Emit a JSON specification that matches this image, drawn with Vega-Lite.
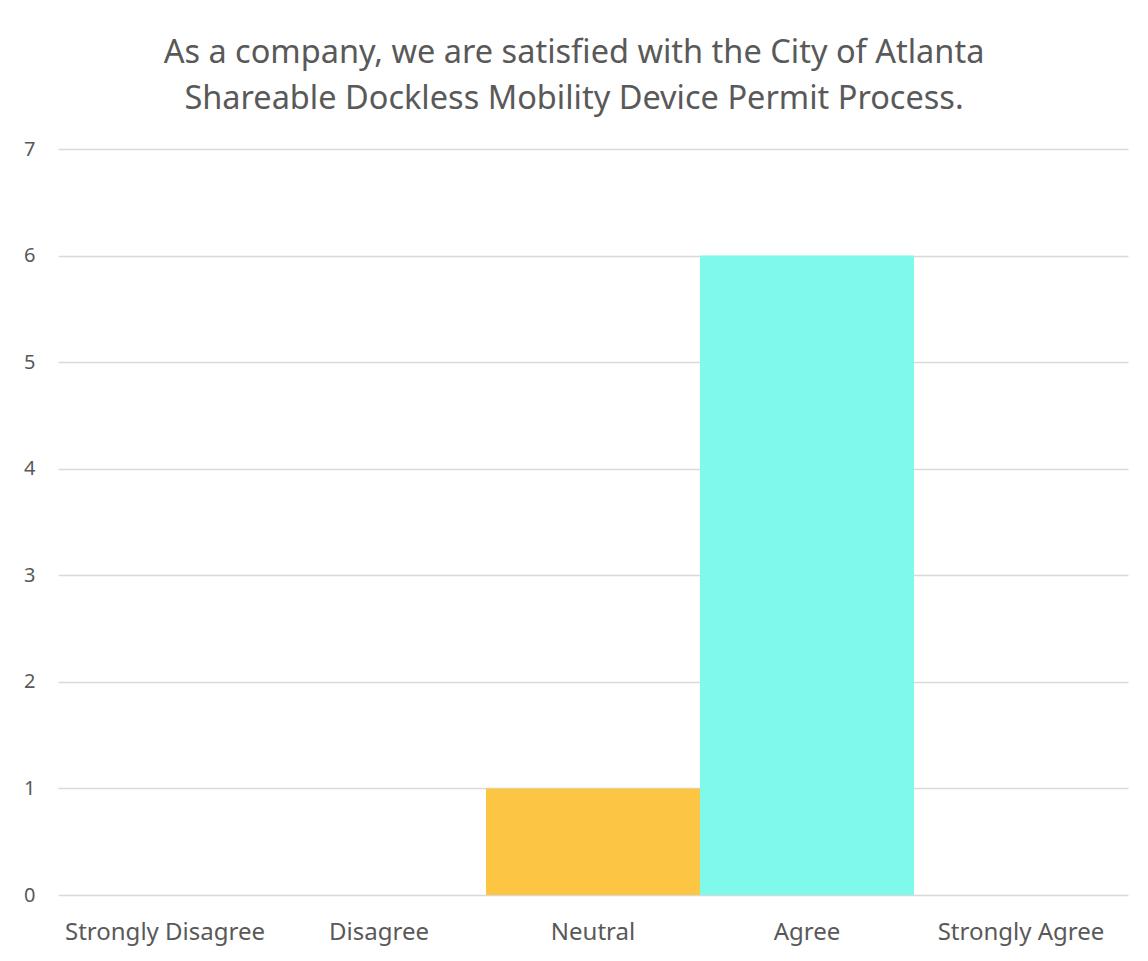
{
  "$schema": "https://vega.github.io/schema/vega-lite/v6.json",
  "width": 1070,
  "height": 746,
  "autosize": {"type": "none"},
  "padding": {"left": 58, "top": 149, "right": 20, "bottom": 66},
  "background": "white",
  "title": {
    "text": ["As a company, we are satisfied with the City of Atlanta", "Shareable Dockless Mobility Device Permit Process."],
    "font": "Noto Sans",
    "fontSize": 32.5,
    "fontWeight": "normal",
    "color": "#595959",
    "lineHeight": 46,
    "anchor": "middle",
    "dx": -19,
    "offset": 24
  },
  "data": {
    "values": [
      {"response": "Strongly Disagree", "count": 0},
      {"response": "Disagree", "count": 0},
      {"response": "Neutral", "count": 1},
      {"response": "Agree", "count": 6},
      {"response": "Strongly Agree", "count": 0}
    ]
  },
  "mark": {"type": "bar"},
  "encoding": {
    "x": {
      "field": "response",
      "type": "nominal",
      "sort": null,
      "scale": {"paddingInner": 0, "paddingOuter": 0},
      "axis": {
        "title": null,
        "labelAngle": 0,
        "labelFont": "Noto Sans",
        "labelFontSize": 24,
        "labelColor": "#595959",
        "labelPadding": 25,
        "labelLimit": 0,
        "ticks": false,
        "domain": false,
        "grid": false
      }
    },
    "y": {
      "field": "count",
      "type": "quantitative",
      "scale": {"domain": [0, 7]},
      "axis": {
        "title": null,
        "values": [0, 1, 2, 3, 4, 5, 6, 7],
        "labelFont": "Noto Sans",
        "labelFontSize": 20,
        "labelColor": "#595959",
        "labelPadding": 23,
        "ticks": false,
        "domain": false,
        "grid": true,
        "gridColor": "#D9D9D9",
        "gridWidth": 1.5
      }
    },
    "color": {
      "field": "response",
      "type": "nominal",
      "scale": {
        "domain": ["Strongly Disagree", "Disagree", "Neutral", "Agree", "Strongly Agree"],
        "range": ["#E26B5B", "#F4A460", "#FCC644", "#7FF9E9", "#5B9BD5"]
      },
      "legend": null
    }
  },
  "config": {"view": {"stroke": null}}
}
